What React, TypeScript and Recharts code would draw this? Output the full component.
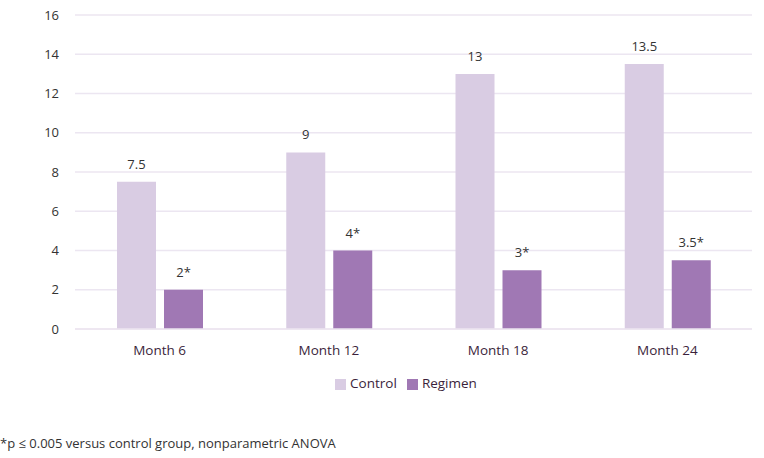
import { BarChart, Bar, XAxis, YAxis, CartesianGrid, Legend, LabelList } from "recharts";

const months = ["Month 6", "Month 12", "Month 18", "Month 24"];
const controlValues = [7.5, 9, 13, 13.5];
const regimenValues = [2, 4, 3, 3.5];
const regimenMarks = ["*", "*", "*", "*"];
const yTicks = [0, 2, 4, 6, 8, 10, 12, 14, 16];

const chartData = months.map((month, i) => ({
  month,
  control: controlValues[i],
  regimen: regimenValues[i],
  regimenLabel: `${regimenValues[i]}${regimenMarks[i]}`,
}));

const font = "'Open Sans', sans-serif";

export default function App() {
  return (
    <div
      style={{
        position: "absolute",
        left: 0,
        top: 0,
        width: 764,
        height: 458,
        background: "#fff",
        fontFamily: font,
      }}
    >
      <BarChart
        width={764}
        height={400}
        data={chartData}
        margin={{ top: 15, right: 12, left: 0, bottom: 0 }}
        barGap={8}
        barSize={39}
      >
        <CartesianGrid vertical={false} stroke="#ece6f1" strokeWidth={1.5} />
        <XAxis
          dataKey="month"
          axisLine={{ stroke: "#ece6f1", strokeWidth: 1.5 }}
          tickLine={false}
          tickMargin={10}
          height={30}
          tick={{ fill: "#3b1f3b", fontSize: 13.5, fontFamily: font }}
        />
        <YAxis
          domain={[0, 16]}
          ticks={yTicks}
          width={75}
          axisLine={false}
          tickLine={false}
          tickMargin={10}
          tick={{ fill: "#333", fontSize: 13, fontFamily: font }}
        />
        <Legend
          verticalAlign="bottom"
          height={41}
          iconType="square"
          iconSize={11}
          wrapperStyle={{ top: 374, paddingLeft: 35, fontSize: 13.5, fontFamily: font }}
          formatter={(value: string) => <span style={{ color: "#3b1f3b" }}>{value}</span>}
        />
        <Bar dataKey="control" name="Control" fill="#d9cce3" isAnimationActive={false}>
          <LabelList dataKey="control" position="top" offset={13} fill="#333" fontSize={13} fontFamily={font} />
        </Bar>
        <Bar dataKey="regimen" name="Regimen" fill="#a078b4" isAnimationActive={false}>
          <LabelList dataKey="regimenLabel" position="top" offset={13} fill="#333" fontSize={13} fontFamily={font} />
        </Bar>
      </BarChart>
      <div
        style={{
          position: "absolute",
          left: 0,
          top: 434,
          fontSize: 13,
          color: "#333",
          fontFamily: font,
        }}
      >
        *p ≤ 0.005 versus control group, nonparametric ANOVA
      </div>
    </div>
  );
}
